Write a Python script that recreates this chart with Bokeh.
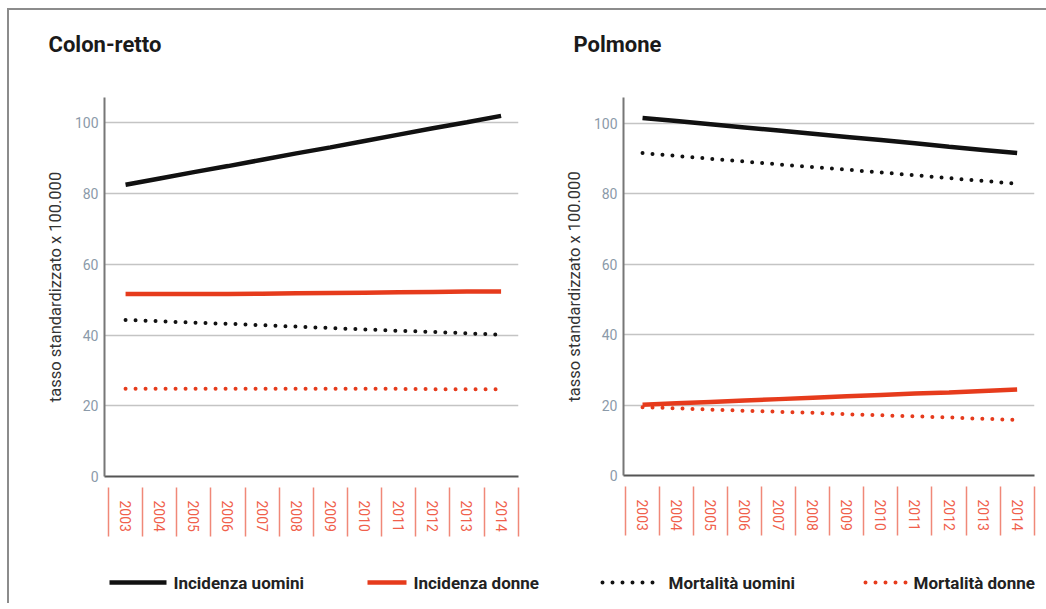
from bokeh.plotting import figure
from bokeh.models import Range1d, FixedTicker, Title
from bokeh.layouts import column, row
from bokeh.embed import file_html
from bokeh.resources import INLINE
from bokeh.core.properties import value

years = ["2003", "2004", "2005", "2006", "2007", "2008", "2009", "2010", "2011", "2012", "2013", "2014"]

colon_inc_uomini = [82.5, 84.3, 86.1, 87.8, 89.6, 91.4, 93.1, 94.9, 96.7, 98.5, 100.2, 102.0]
colon_inc_donne = [51.6, 51.6, 51.6, 51.6, 51.7, 51.8, 51.9, 52.0, 52.1, 52.2, 52.3, 52.3]
colon_mort_uomini = [44.3, 43.9, 43.5, 43.2, 42.8, 42.4, 42.0, 41.6, 41.2, 40.9, 40.5, 40.1]
colon_mort_donne = [24.8, 24.8, 24.8, 24.8, 24.8, 24.8, 24.8, 24.8, 24.8, 24.7, 24.7, 24.7]

polm_inc_uomini = [101.6, 100.7, 99.8, 98.9, 98.0, 97.1, 96.2, 95.3, 94.4, 93.4, 92.5, 91.6]
polm_inc_donne = [20.1, 20.5, 20.9, 21.3, 21.7, 22.1, 22.5, 22.9, 23.3, 23.6, 24.0, 24.4]
polm_mort_uomini = [91.6, 90.8, 90.0, 89.2, 88.4, 87.6, 86.9, 86.1, 85.3, 84.5, 83.7, 82.9]
polm_mort_donne = [19.4, 19.1, 18.7, 18.4, 18.1, 17.8, 17.4, 17.1, 16.8, 16.5, 16.1, 15.8]

y_ticks = [0, 20, 40, 60, 80, 100]
titles = ["Colon-retto", "Polmone"]
y_label = "tasso standardizzato x 100.000"
legend_labels = ["Incidenza uomini", "Incidenza donne", "Mortalità uomini", "Mortalità donne"]

BLACK = "#111111"
RED = "#e63b1c"
FONT = "Roboto"


def make_panel(title, inc_u, inc_d, mort_u, mort_d, x_start, y_end,
               frame_w, frame_h, b_left, b_right, b_top, b_bottom, title_offset):
    xs = list(range(len(years)))
    p = figure(frame_width=frame_w, frame_height=frame_h,
               min_border_left=b_left, min_border_right=b_right,
               min_border_top=b_top, min_border_bottom=b_bottom,
               x_range=Range1d(x_start, len(years) - 0.5 + 0.01),
               y_range=Range1d(0, y_end),
               output_backend="svg", toolbar_location=None, title=None)
    p.outline_line_color = None

    # spacer panel between frame and title, then the title itself
    p.add_layout(Title(text=" ", standoff=36, text_font_size="1px"), "above")
    p.add_layout(Title(text=title, align="left", offset=title_offset, standoff=4,
                       text_font=FONT, text_font_size="22px", text_font_style="bold",
                       text_color="#1a1a1a"), "above")

    # lines
    p.line(xs, inc_u, line_color=BLACK, line_width=4.5)
    p.line(xs, inc_d, line_color=RED, line_width=4.5)
    p.line(xs, mort_u, line_color=BLACK, line_width=4, line_dash="0 10", line_cap="round")
    p.line(xs, mort_d, line_color=RED, line_width=4, line_dash="0 10", line_cap="round")

    # x axis
    xa = p.xaxis[0]
    xa.ticker = FixedTicker(ticks=xs, minor_ticks=[i - 0.5 for i in range(len(years) + 1)])
    xa.major_label_overrides = {i: y for i, y in enumerate(years)}
    xa.major_label_orientation = "vertical"
    xa.major_tick_in = 0
    xa.major_tick_out = 0
    xa.minor_tick_in = -11
    xa.minor_tick_out = 60
    xa.minor_tick_line_color = "#f08878"
    xa.minor_tick_line_width = 1.5
    xa.major_label_standoff = -36
    xa.major_label_text_color = "#f0604c"
    xa.major_label_text_font = FONT
    xa.major_label_text_font_size = "14px"
    xa.axis_line_color = "#555555"
    xa.axis_line_width = 2

    # y axis
    ya = p.yaxis[0]
    ya.ticker = FixedTicker(ticks=y_ticks)
    ya.major_tick_in = 0
    ya.major_tick_out = 0
    ya.minor_tick_line_color = None
    ya.major_label_standoff = 6
    ya.major_label_text_color = "#8b9aa9"
    ya.major_label_text_font = FONT
    ya.major_label_text_font_size = "14px"
    ya.axis_line_color = "#777777"
    ya.axis_line_width = 2
    ya.axis_label = y_label
    ya.axis_label_text_font = FONT
    ya.axis_label_text_font_size = "16.5px"
    ya.axis_label_text_font_style = "normal"
    ya.axis_label_text_color = "#333333"
    ya.axis_label_standoff = 7

    p.xgrid.visible = False
    p.ygrid.ticker = FixedTicker(ticks=y_ticks)
    p.ygrid.grid_line_color = "#c4c4c4"
    p.ygrid.grid_line_width = 1.5
    return p


p1 = make_panel(titles[0], colon_inc_uomini, colon_inc_donne, colon_mort_uomini, colon_mort_donne,
                -0.617, 107.2, 414, 379, 95, 21, 87, 84, -56)
p2 = make_panel(titles[1], polm_inc_uomini, polm_inc_donne, polm_mort_uomini, polm_mort_donne,
                -0.559, 107.4, 411, 378, 84, 4, 87, 85, -50)

# legend strip
leg = figure(width=1037, height=43, x_range=Range1d(0, 1037), y_range=Range1d(43, 0),
             output_backend="svg", toolbar_location=None, min_border=0)
leg.axis.visible = False
leg.grid.visible = False
leg.outline_line_color = None

swatch_x = [(100, 157), (358, 397), (593, 649), (856, 901)]
text_x = [164, 404, 659, 904]
colors = [BLACK, RED, BLACK, RED]
dotted = [False, False, True, True]
ly = 22
for (x0, x1), c, d in zip(swatch_x, colors, dotted):
    if d:
        leg.line([x0, x1], [ly, ly], line_color=c, line_width=4, line_dash="0 10", line_cap="round")
    else:
        leg.line([x0, x1], [ly, ly], line_color=c, line_width=4.5)
leg.text(x=text_x, y=[ly] * 4, text=legend_labels, text_font=value(FONT),
         text_font_size=value("17px"), text_font_style="bold", text_baseline="middle",
         text_color="#222222")

layout = column(row(p1, p2), leg,
                styles={"margin-left": "7px", "margin-top": "8px",
                        "border-top": "2px solid #8c8c8c", "border-left": "2px solid #8c8c8c",
                        "border-right": "none", "border-bottom": "none"})

open("out.html", "w").write(file_html(layout, INLINE))
